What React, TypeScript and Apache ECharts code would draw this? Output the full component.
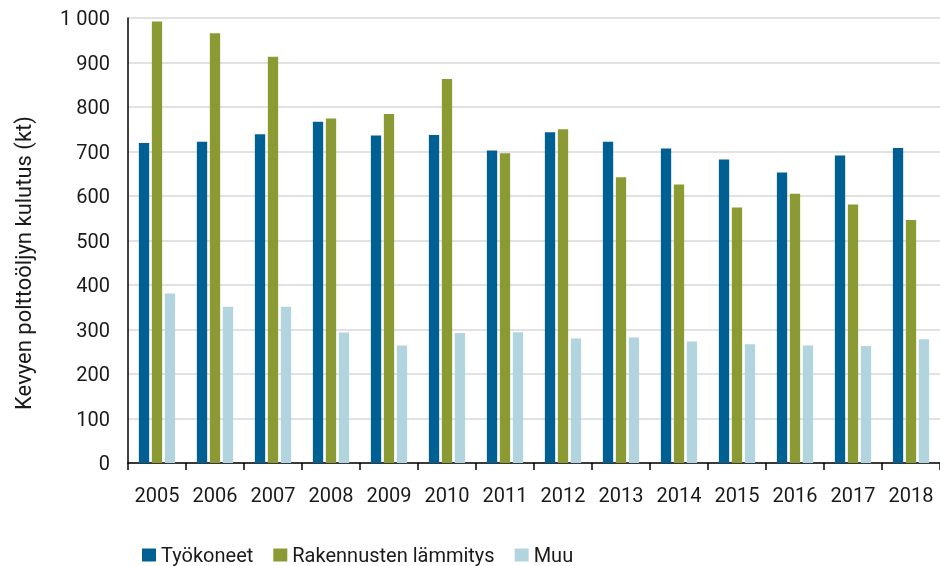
import React, { useEffect, useRef } from "react";
import * as echarts from "echarts";

const years = ["2005","2006","2007","2008","2009","2010","2011","2012","2013","2014","2015","2016","2017","2018"];
const tyokoneet = [719, 722, 739, 767, 736, 737, 702, 743, 722, 707, 682, 653, 691, 708];
const rakennusten = [992, 966, 913, 774, 784, 863, 696, 750, 642, 626, 574, 605, 581, 546];
const muu = [381, 351, 351, 293, 264, 292, 294, 280, 282, 273, 267, 264, 263, 278];
const seriesNames = ["Työkoneet", "Rakennusten lämmitys", "Muu"];
const colors = ["#005f93", "#8c9a33", "#b1d4de"];
const yTicks = { min: 0, max: 1000, interval: 100 };
const yTitle = "Kevyen polttoöljyn kulutus (kt)";

const FONT = "Roboto, 'Noto Sans', sans-serif";

export default function App() {
  const ref = useRef<HTMLDivElement>(null);
  useEffect(() => {
    if (!ref.current) return;
    const chart = echarts.init(ref.current, undefined, { renderer: "svg" });
    const data = [tyokoneet, rakennusten, muu];
    chart.setOption({
      animation: false,
      textStyle: { fontFamily: FONT },
      grid: { left: 128, top: 18, bottom: 103, right: -9, containLabel: false },
      legend: {
        left: 137,
        top: 540,
        itemWidth: 14,
        itemHeight: 13,
        itemGap: 20,
        icon: "rect",
        textStyle: { fontFamily: FONT, fontSize: 20, color: "#1a1a1a" },
        data: seriesNames,
      },
      graphic: [
        {
          type: "text",
          x: 23,
          y: 263,
          rotation: Math.PI / 2,
          style: {
            text: yTitle,
            fontFamily: FONT,
            fontSize: 22,
            fill: "#1a1a1a",
            align: "center",
            verticalAlign: "middle",
          },
        },
      ],
      xAxis: {
        type: "category",
        data: years,
        axisLine: { lineStyle: { color: "#000", width: 1.5 } },
        axisTick: { show: true, length: 7, lineStyle: { color: "#000", width: 1.5 } },
        axisLabel: { interval: 0, fontFamily: FONT, fontSize: 20, color: "#1a1a1a", margin: 22 },
      },
      yAxis: {
        type: "value",
        min: yTicks.min,
        max: yTicks.max,
        interval: yTicks.interval,
        axisLine: { show: true, lineStyle: { color: "#000", width: 1.5 } },
        axisTick: { show: false },
        splitLine: { lineStyle: { color: "#d9d9d9", width: 1.5 } },
        axisLabel: {
          fontFamily: FONT,
          fontSize: 20,
          color: "#1a1a1a",
          margin: 18,
          formatter: (v: number) => (v >= 1000 ? String(v).replace(/(\d)(\d{3})$/, "$1 $2") : String(v)),
        },
      },
      series: data.map((d, i) => ({
        name: seriesNames[i],
        type: "bar",
        data: d,
        barWidth: 10.3,
        barGap: "26%",
        itemStyle: { color: colors[i] },
      })),
    });
    return () => chart.dispose();
  }, []);
  return <div ref={ref} style={{ position: "fixed", left: 0, top: 0, width: 940, height: 566 }} />;
}
